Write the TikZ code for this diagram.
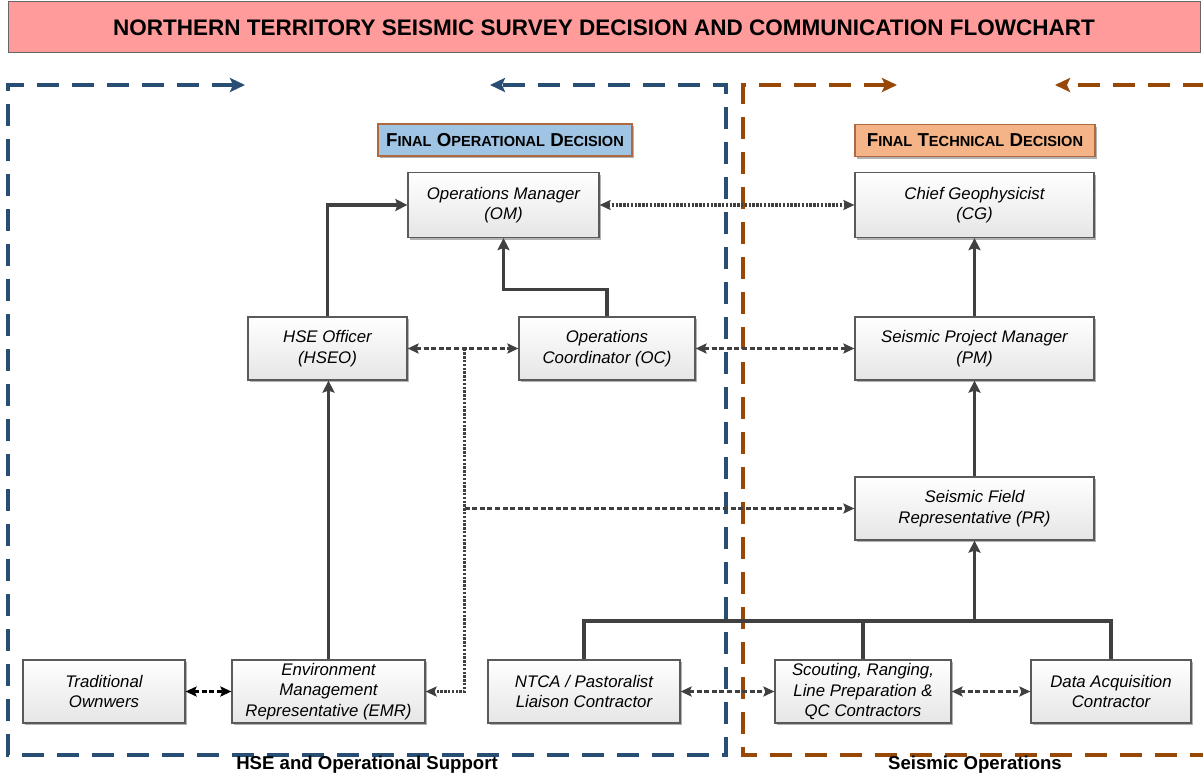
\documentclass[tikz,border=0pt]{standalone}
\usepackage{fontspec}
\setmainfont{Liberation Sans}
\setsansfont{Liberation Sans}
\usetikzlibrary{arrows,arrows.meta,shapes,positioning,calc,shadows}

\definecolor{titlepink}{RGB}{255,155,155}
\definecolor{opblue}{RGB}{160,196,228}
\definecolor{techorange}{RGB}{244,180,136}
\definecolor{labelrim}{RGB}{175,105,65}
\definecolor{hseblue}{RGB}{40,78,115}
\definecolor{seisbrown}{RGB}{151,72,6}
\definecolor{wire}{RGB}{64,64,64}
\definecolor{boxrim}{RGB}{90,90,90}

\newcommand{\scsmall}{\fontsize{14.6}{16}\selectfont}

\tikzset{
  role/.style={draw=boxrim, line width=1.2pt, top color=white, bottom color=black!10,
    align=center, inner sep=2pt, minimum height=63pt,
    font=\fontsize{16.8}{20.5}\selectfont\itshape,
    drop shadow={shadow xshift=2pt,shadow yshift=-2pt,opacity=.3,fill=black}},
  banner/.style={draw=labelrim, line width=1.3pt, minimum height=32pt, inner sep=0pt,
    font=\fontsize{18.7}{20}\selectfont\bfseries,
    drop shadow={shadow xshift=2pt,shadow yshift=-2pt,opacity=.3,fill=black}},
  solidlink/.style={draw=wire, line width=3.8pt},
  dotlink/.style={draw=wire, line width=3.2pt, dash pattern=on 2.4pt off 1.4pt,
    >={Stealth[length=11pt,width=10pt,inset=2pt]}},
  dashlink/.style={draw=wire, line width=3pt, dash pattern=on 5pt off 2.6pt,
    >={Stealth[length=11pt,width=10pt,inset=2pt]}},
  region/.style={line width=4pt, dash pattern=on 22pt off 13pt,
    >={Stealth[length=15pt,width=14pt,inset=3pt]}}
}

\begin{document}
\begin{tikzpicture}[x=1pt,y=-1pt,>={Stealth[length=12pt,width=12pt,inset=2pt]}]
\useasboundingbox (0,0) rectangle (1203,776);

\begin{scope}
\clip (0,0) rectangle (1203,776);
\draw[region,hseblue,<->] (245,85) -- (8,85) -- (8,755) -- (726,755) -- (726,85) -- (490,85);
\draw[region,seisbrown,<-] (897,85) -- (743,85) -- (743,755) -- (1240,755);
\draw[region,seisbrown,->] (1240,85) -- (1055,85);
\end{scope}

\node[draw=black!60, line width=1pt, fill=titlepink, minimum width=1192pt, minimum height=51pt,
  inner sep=0pt, font=\fontsize{22.5}{24}\selectfont\bfseries] (title) at (604,27.5)
  {NORTHERN TERRITORY SEISMIC SURVEY DECISION AND COMMUNICATION FLOWCHART};

\node[banner, fill=opblue, minimum width=254pt] (opdec) at (505,140)
  {F{\scsmall INAL} O{\scsmall PERATIONAL} D{\scsmall ECISION}};
\node[banner, fill=techorange, minimum width=240pt] (techdec) at (975,140.5)
  {F{\scsmall INAL} T{\scsmall ECHNICAL} D{\scsmall ECISION}};

\node[role, minimum width=191pt, minimum height=65pt] (om) at (503.5,205) {Operations Manager\\(OM)};
\node[role, minimum width=239pt, minimum height=65pt] (cg) at (974.5,205) {Chief Geophysicist\\(CG)};
\node[role, minimum width=159pt] (hseo) at (327.5,348.5) {HSE Officer\\(HSEO)};
\node[role, minimum width=176pt] (oc) at (607,348.5) {Operations\\Coordinator (OC)};
\node[role, minimum width=239pt] (pm) at (974.5,348.5) {Seismic Project Manager\\(PM)};
\node[role, minimum width=239pt] (pr) at (974.5,508.5) {Seismic Field\\Representative (PR)};
\node[role, minimum width=162pt] (to) at (104,691.5) {Traditional\\Ownwers};
\node[role, minimum width=193pt] (emr) at (328.5,691.5) {Environment\\Management\\Representative (EMR)};
\node[role, minimum width=192pt] (ntca) at (584,691.5) {NTCA / Pastoralist\\Liaison Contractor};
\node[role, minimum width=176pt] (srl) at (863,691.5) {Scouting, Ranging,\\Line Preparation \&\\QC Contractors};
\node[role, minimum width=160pt] (dac) at (1111,691.5) {Data Acquisition\\Contractor};

\node[font=\fontsize{18.6}{20}\selectfont\bfseries] (hselabel) at (367,765) {HSE and Operational Support};
\node[font=\fontsize{18.6}{20}\selectfont\bfseries] (seislabel) at (975,765) {Seismic Operations};

\draw[solidlink,->] (hseo.north) |- (om.west);
\draw[solidlink,->] (oc.north) -- ++(0,-27) -| (om.south);
\draw[solidlink,->] (pm.north) -- (cg.south);
\draw[solidlink,->] (pr.north) -- (pm.south);
\draw[solidlink,->] (emr.north) -- (emr.north |- hseo.south);
\path (pr.south) ++(0,80) coordinate (bus);
\draw[solidlink] (ntca.north) |- (bus) -| (dac.north);
\draw[solidlink] (srl.north) -- (srl.north |- bus);
\draw[solidlink,->] (bus) -- (pr.south);

\draw[dotlink,<->] (om.east) -- (cg.west);
\draw[dashlink,<->] (hseo.east) -- (oc.west);
\draw[dashlink,<->] (oc.east) -- (pm.west);
\path (hseo.east) ++(57,0) coordinate (tap);
\draw[dotlink,->] (tap) |- (emr.east);
\draw[dashlink,->] (tap |- pr.west) -- (pr.west);
\draw[dashlink,<->,draw=black] (to.east) -- (emr.west);
\draw[dashlink,<->] (ntca.east) -- (srl.west);
\draw[dashlink,<->] (srl.east) -- (dac.west);
\end{tikzpicture}
\end{document}
